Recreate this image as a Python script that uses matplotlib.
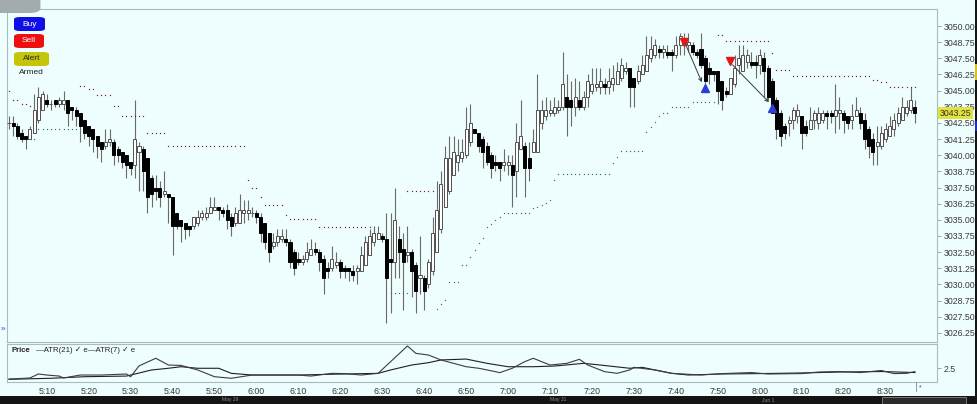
import matplotlib
matplotlib.use("Agg")
import matplotlib.pyplot as plt
import matplotlib.transforms as mtrans
from matplotlib.patches import Rectangle, FancyBboxPatch
import numpy as np

# ---------------- data ----------------
first_bar_minute = 1          # first bar is 5:01, one bar per minute
opens = [3042.50,3042.50,3042.25,3041.75,3041.50,3041.25,3041.75,3042.75,3043.50,3044.25,
         3044.00,3044.25,3044.00,3044.00,3044.25,3043.75,3043.50,3043.25,3042.75,3042.25,
         3042.00,3041.50,3041.00,3040.75,3041.00,3041.00,3040.50,3040.25,3040.00,3039.50,
         3039.25,3040.25,3040.50,3039.75,3038.25,3037.50,3037.50,3037.00,3037.00,3036.75,
         3035.50,3035.00,3034.75,3034.50,3034.50,3034.75,3035.25,3035.25,3035.50,3035.75,
         3036.00,3035.75,3035.75,3035.25,3034.75,3034.75,3035.50,3035.50,3035.50,3035.50,
         3035.25,3034.75,3034.00,3033.00,3033.25,3033.50,3033.50,3033.25,3032.50,3032.00,
         3031.75,3032.00,3032.25,3032.75,3032.50,3032.00,3031.25,3031.25,3031.50,3031.75,
         3031.25,3031.25,3031.00,3031.00,3031.00,3031.50,3032.25,3033.25,3033.50,3033.75,
         3033.50,3032.00,3031.75,3033.50,3032.75,3032.25,3032.50,3031.50,3030.50,3030.50,
         3030.00,3031.00,3032.50,3034.25,3036.00,3037.25,3038.50,3039.50,3039.75,3040.00,
         3041.00,3042.00,3041.75,3041.25,3040.75,3040.00,3039.50,3039.50,3039.25,3039.25,
         3039.25,3038.75,3040.50,3040.75,3039.75,3040.25,3040.25,3042.50,3043.00,3043.25,
         3043.25,3043.50,3043.75,3044.50,3044.25,3043.75,3044.25,3043.75,3044.50,3045.00,
         3045.25,3045.25,3045.50,3045.25,3045.50,3045.50,3046.00,3046.50,3046.75,3046.00,
         3045.75,3046.25,3046.50,3047.50,3047.75,3048.25,3048.00,3048.00,3048.00,3047.75,
         3048.50,3048.50,3048.50,3048.50,3048.00,3048.25,3047.50,3046.75,3046.50,3046.50,
         3045.75,3045.00,3044.75,3045.50,3047.00,3046.50,3047.25,3047.25,3047.25,3047.00,
         3047.50,3046.75,3045.75,3044.25,3043.25,3042.25,3042.50,3042.75,3043.00,3043.00,
         3042.25,3042.00,3042.75,3042.50,3042.75,3043.25,3043.25,3043.00,3043.25,3043.25,
         3043.00,3042.75,3043.00,3043.25,3042.75,3042.00,3041.25,3040.75,3040.75,3041.25,
         3041.50,3042.00,3042.50,3042.75,3043.25,3043.50,3043.75]
highs = [3043.00,3043.00,3042.50,3042.00,3041.50,3042.25,3044.75,3045.25,3045.00,3044.75,
         3044.25,3044.25,3044.50,3045.00,3044.25,3043.75,3043.75,3043.25,3042.75,3042.25,
         3042.00,3041.50,3041.00,3042.00,3042.00,3041.25,3040.75,3040.25,3040.00,3039.50,
         3044.25,3041.00,3040.75,3039.75,3038.50,3038.50,3038.00,3038.75,3037.00,3036.75,
         3035.50,3035.00,3034.75,3034.50,3035.25,3035.75,3035.75,3036.00,3036.75,3036.75,
         3036.00,3036.00,3036.25,3035.50,3036.00,3037.00,3036.50,3036.50,3036.00,3035.75,
         3035.50,3034.75,3034.00,3034.00,3034.25,3034.25,3034.25,3033.50,3032.75,3032.50,
         3032.25,3033.25,3033.50,3033.25,3032.75,3032.25,3031.75,3033.00,3032.50,3032.00,
         3031.50,3031.25,3031.50,3031.50,3033.00,3033.75,3034.25,3034.50,3034.50,3034.00,
         3035.50,3035.50,3037.50,3034.50,3034.00,3034.50,3032.75,3031.75,3033.75,3030.75,
         3032.00,3035.25,3038.00,3038.75,3040.75,3041.50,3041.50,3041.25,3041.25,3043.75,
         3044.00,3042.00,3041.75,3041.50,3041.00,3040.25,3040.00,3039.50,3040.50,3040.00,
         3040.00,3042.50,3044.25,3041.00,3041.00,3042.00,3046.25,3044.25,3044.50,3044.25,
         3044.50,3044.25,3048.00,3046.25,3045.75,3046.00,3045.75,3045.00,3046.25,3046.75,
         3046.75,3046.75,3046.00,3046.75,3047.00,3047.25,3047.50,3047.25,3046.75,3046.00,
         3047.00,3047.75,3049.25,3049.25,3049.00,3048.50,3048.50,3048.50,3048.25,3049.25,
         3049.50,3049.50,3049.50,3048.75,3048.25,3049.50,3047.75,3047.25,3046.50,3046.50,
         3045.75,3045.25,3046.00,3047.75,3048.50,3048.50,3048.25,3048.00,3047.75,3048.25,
         3048.00,3047.00,3046.00,3044.50,3043.50,3042.50,3043.00,3043.75,3044.00,3043.00,
         3042.75,3043.75,3043.50,3043.75,3043.50,3043.50,3043.50,3045.50,3044.50,3043.50,
         3043.00,3044.00,3044.50,3043.75,3043.25,3042.25,3041.75,3042.25,3042.25,3042.50,
         3043.00,3043.25,3043.75,3044.50,3044.25,3045.25,3044.25]
lows = [3042.00,3041.50,3041.25,3041.00,3040.50,3041.25,3041.75,3042.50,3043.50,3043.75,
        3043.50,3043.75,3043.75,3043.50,3042.25,3042.75,3042.25,3041.00,3041.25,3040.75,
        3040.25,3039.75,3039.50,3040.50,3040.75,3039.25,3039.50,3039.00,3038.25,3038.50,
        3038.25,3037.25,3037.25,3035.50,3036.00,3036.50,3036.00,3036.75,3034.75,3032.25,
        3034.25,3033.25,3033.50,3033.75,3034.25,3034.50,3035.00,3035.00,3035.50,3035.75,
        3035.00,3035.25,3034.25,3033.75,3034.50,3034.75,3034.75,3035.00,3035.25,3034.75,
        3033.25,3032.75,3031.75,3032.75,3033.00,3033.25,3033.00,3031.25,3030.75,3031.50,
        3031.50,3031.75,3032.25,3032.25,3031.00,3029.25,3030.50,3031.00,3031.25,3030.50,
        3030.50,3030.25,3030.25,3030.00,3031.00,3031.50,3032.25,3033.00,3033.50,3033.25,
        3027.00,3027.75,3030.50,3030.50,3028.00,3031.75,3029.00,3027.75,3029.25,3028.00,
        3029.75,3030.75,3032.50,3034.00,3036.00,3037.00,3038.50,3038.75,3039.50,3039.75,
        3040.75,3041.75,3040.25,3039.00,3039.25,3038.25,3038.75,3038.00,3038.75,3038.50,
        3036.00,3036.75,3040.50,3036.75,3038.00,3040.25,3040.25,3042.00,3042.75,3043.00,
        3043.00,3043.25,3043.50,3041.50,3042.25,3043.00,3043.50,3043.50,3043.75,3044.75,
        3045.00,3044.75,3044.75,3044.75,3045.00,3045.50,3045.75,3046.25,3043.75,3043.75,
        3045.50,3046.25,3046.50,3047.25,3047.50,3047.50,3047.50,3047.50,3046.50,3047.50,
        3047.75,3047.75,3048.00,3047.75,3047.50,3046.75,3045.50,3045.50,3045.75,3044.00,
        3043.50,3044.50,3044.75,3045.25,3046.25,3046.50,3046.75,3046.75,3046.00,3046.25,
        3044.50,3044.25,3043.25,3041.25,3040.75,3041.25,3041.50,3042.00,3042.50,3040.50,
        3041.50,3042.00,3042.00,3042.00,3042.50,3042.00,3042.50,3041.75,3042.00,3041.75,
        3042.00,3042.00,3043.00,3042.00,3040.50,3039.75,3039.25,3039.25,3040.50,3041.00,
        3041.50,3041.50,3042.25,3042.75,3043.00,3043.25,3042.50]
closes = [3042.50,3042.25,3041.50,3041.25,3041.25,3042.00,3043.50,3044.50,3044.75,3044.00,
          3044.00,3044.00,3044.25,3044.25,3043.25,3043.50,3043.00,3042.25,3041.75,3041.50,
          3041.25,3040.75,3040.50,3041.00,3041.25,3040.00,3040.00,3039.50,3039.25,3039.00,
          3041.25,3040.75,3038.75,3036.75,3037.00,3037.25,3036.75,3037.25,3036.75,3034.50,
          3034.50,3034.50,3034.25,3034.25,3035.25,3035.25,3035.50,3035.50,3036.00,3036.00,
          3035.75,3035.50,3035.00,3034.50,3035.50,3035.75,3035.75,3035.75,3035.50,3035.25,
          3034.00,3033.25,3032.50,3033.25,3033.75,3033.75,3033.25,3031.75,3031.25,3031.75,
          3032.00,3032.50,3032.75,3032.50,3031.75,3030.50,3031.00,3032.00,3031.75,3031.00,
          3031.00,3031.00,3030.75,3031.25,3032.25,3033.25,3033.75,3034.00,3034.00,3033.50,
          3030.50,3031.75,3035.00,3032.50,3031.75,3032.50,3031.00,3029.50,3030.75,3029.50,
          3031.75,3034.00,3035.75,3037.75,3039.75,3039.75,3040.25,3040.00,3040.25,3042.00,
          3042.50,3041.75,3040.75,3040.25,3039.50,3039.00,3039.25,3039.00,3039.50,3039.50,
          3038.50,3041.00,3041.50,3039.00,3039.00,3041.00,3043.50,3043.50,3043.50,3043.50,
          3043.75,3043.75,3045.50,3043.75,3043.75,3044.50,3043.75,3044.50,3045.75,3045.50,
          3045.50,3045.75,3045.25,3045.75,3046.00,3046.50,3047.00,3046.75,3045.25,3045.25,
          3046.50,3047.00,3047.75,3048.25,3048.50,3048.00,3048.25,3047.75,3047.75,3048.50,
          3049.25,3048.75,3048.75,3048.00,3047.75,3047.00,3045.75,3046.25,3046.25,3045.00,
          3044.25,3044.75,3046.00,3046.75,3047.50,3047.75,3047.75,3047.00,3047.00,3047.75,
          3046.50,3044.50,3043.25,3042.00,3041.50,3041.75,3042.75,3043.50,3043.50,3041.75,
          3041.75,3042.75,3043.25,3043.25,3043.25,3043.00,3043.00,3043.50,3043.50,3042.75,
          3042.50,3043.00,3043.50,3042.50,3041.25,3040.75,3040.25,3041.00,3041.75,3042.00,
          3042.25,3042.75,3043.25,3043.75,3043.75,3044.25,3043.25]

# trailing-stop dots: (first bar minute, last bar minute, level)
upper_stop_segments = [(1, 1, 3045.00), (2, 3, 3044.25), (4, 5, 3044.00), (6, 6, 3043.80),
                       (18, 19, 3045.35), (20, 21, 3045.10), (22, 25, 3044.65), (26, 27, 3043.80),
                       (28, 33, 3043.00), (34, 38, 3041.70), (39, 57, 3040.70), (58, 58, 3038.10),
                       (59, 60, 3037.45), (61, 61, 3036.75), (62, 66, 3036.15), (67, 67, 3035.40),
                       (68, 74, 3035.05), (75, 87, 3034.45), (96, 102, 3037.25), (170, 171, 3049.30),
                       (172, 182, 3048.85), (183, 183, 3047.90), (184, 187, 3046.60), (188, 206, 3046.15),
                       (207, 208, 3045.85), (209, 210, 3045.70), (211, 217, 3045.30)]
lower_stop_segments = [(7, 7, 3041.25), (8, 17, 3042.00), (92, 96, 3029.35), (103, 103, 3028.10),
                       (104, 104, 3028.45), (105, 105, 3028.80), (106, 108, 3030.20), (109, 110, 3031.50),
                       (111, 111, 3032.10), (112, 112, 3032.65), (113, 113, 3033.20), (114, 114, 3033.60),
                       (115, 115, 3034.45), (116, 116, 3034.65), (117, 117, 3035.00), (118, 118, 3035.20),
                       (119, 125, 3035.50), (126, 126, 3035.90), (127, 127, 3036.00), (128, 128, 3036.15),
                       (129, 129, 3036.30), (130, 130, 3036.50), (131, 131, 3038.10), (132, 144, 3038.55),
                       (145, 145, 3039.40), (146, 146, 3039.85), (147, 152, 3040.30), (153, 153, 3041.80),
                       (154, 154, 3042.20), (155, 155, 3042.60), (156, 156, 3043.00), (157, 158, 3043.30),
                       (159, 163, 3043.75), (164, 169, 3044.10)]

sell_minutes = [162, 173]
sell_prices = [3048.75, 3047.30]
buy_minutes = [167, 183]
buy_prices = [3045.20, 3043.65]

atr7_minutes = [1, 6, 8, 10, 13, 14, 18, 23, 29, 30, 32, 36, 39, 42, 46, 50, 54, 59, 63, 70,
                73, 78, 81, 85, 89, 92, 96, 98, 101, 104, 107, 110, 113, 117, 118, 121, 124, 126, 130, 134,
                137, 139, 143, 146, 149, 150, 155, 159, 166, 171, 178, 182, 190, 194, 199, 204, 209, 212, 215, 217]
atr7_values = [1.65, 1.73, 2.04, 1.96, 1.88, 1.73, 1.96, 1.96, 2.04, 1.83, 2.66, 3.25, 2.73, 2.70, 2.35, 1.83, 1.71, 1.96, 1.96, 1.96,
               1.88, 2.09, 2.07, 1.96, 2.09, 2.99, 4.20, 3.63, 3.50, 3.12, 2.86, 2.60, 2.48, 2.22, 2.14, 2.48, 2.99, 3.25, 2.73, 2.86,
               3.17, 2.73, 2.22, 2.09, 2.35, 2.55, 2.35, 2.09, 1.96, 2.07, 2.15, 2.04, 2.07, 2.19, 2.23, 2.15, 2.31, 2.07, 2.09, 2.22]
atr21_minutes = [1, 11, 19, 29, 35, 39, 42, 46, 51, 54, 59, 70, 78, 89, 92, 97, 101, 104, 110, 115,
                 120, 126, 131, 138, 142, 149, 152, 159, 163, 171, 180, 190, 199, 209, 217]
atr21_values = [1.63, 1.71, 1.83, 1.88, 2.35, 2.48, 2.60, 2.48, 2.48, 2.09, 1.96, 1.96, 2.02, 2.09, 2.35, 2.73, 2.91, 3.12, 3.19, 2.86,
                2.60, 2.60, 2.65, 2.86, 2.73, 2.48, 2.55, 2.09, 1.96, 2.04, 2.07, 2.12, 2.19, 2.23, 2.15]

x_tick_labels = ["5:10", "5:20", "5:30", "5:40", "5:50", "6:00", "6:10", "6:20", "6:30", "6:40", "6:50",
                 "7:00", "7:10", "7:20", "7:30", "7:40", "7:50", "8:00", "8:10", "8:20", "8:30"]
price_ticks = [3026.25, 3027.50, 3028.75, 3030.00, 3031.25, 3032.50, 3033.75, 3035.00, 3036.25, 3037.50,
               3038.75, 3040.00, 3041.25, 3042.50, 3043.75, 3045.00, 3046.25, 3047.50, 3048.75, 3050.00]
last_price = 3043.25
atr_ticks = [2.5]
date_labels = ["May 29", "May 31", "Jun 1"]

# ---------------- style ----------------
BG = "#eefdfd"
FONT = ["Liberation Sans", "DejaVu Sans"]
plt.rcParams["font.family"] = FONT
W, H = 978, 404

fig = plt.figure(figsize=(W / 100, H / 100), dpi=100)
fig.patch.set_facecolor(BG)

def box(px0, py0, px1, py1):
    return [px0 / W, 1 - py1 / H, (px1 - px0) / W, (py1 - py0) / H]

ax = fig.add_axes(box(7, 9, 937, 342))
ax2 = fig.add_axes(box(7, 344, 937, 382), sharex=ax)
for a in (ax, ax2):
    a.set_facecolor(BG)
    for s in a.spines.values():
        s.set_color("#a9bcbc")
        s.set_linewidth(0.8)

n = len(closes)
xs = np.arange(first_bar_minute, first_bar_minute + n)
o = np.array(opens); h = np.array(highs); l = np.array(lows); c = np.array(closes)
up = c >= o

# wicks
ax.vlines(xs, l, h, color="#6a6a6a", linewidth=0.8, zorder=2)
# bodies
bw = 0.72
ax.bar(xs[up], np.maximum(c[up] - o[up], 0.0), bottom=o[up], width=bw,
       color="white", edgecolor="#505050", linewidth=0.7, zorder=3)
ax.bar(xs[~up], o[~up] - c[~up], bottom=c[~up], width=bw,
       color="black", edgecolor="black", linewidth=0.7, zorder=3)

# stop dots
for s0, s1, v in upper_stop_segments:
    mx = np.arange(s0, s1 + 1)
    ax.plot(mx, np.full(mx.size, v), ls="none", marker="s", ms=0.85, mew=0,
            color="#7a1f1f", zorder=4)
for s0, s1, v in lower_stop_segments:
    mx = np.arange(s0, s1 + 1)
    ax.plot(mx, np.full(mx.size, v), ls="none", marker="s", ms=0.85, mew=0,
            color="#2a7f52", zorder=4)

# signals
ax.plot(sell_minutes, sell_prices, ls="none", marker="v", ms=6, color="#e01818", mec="#e01818", zorder=6)
ax.plot(buy_minutes, buy_prices, ls="none", marker="^", ms=6, color="#2b3fd6", mec="#2b3fd6", zorder=6)
for sm, sp, bm, bp in zip(sell_minutes, sell_prices, buy_minutes, buy_prices):
    ax.annotate("", xy=(bm - 0.8, bp + 0.45), xytext=(sm + 0.5, sp - 0.3),
                arrowprops=dict(arrowstyle="->", color="#3a3a3a", lw=0.7,
                                shrinkA=0, shrinkB=0, mutation_scale=6), zorder=5)

# axes limits
x_left, x_right = 0.525, 222.27
ax.set_xlim(x_left, x_right)
ax.set_ylim(3025.54, 3051.32)

ax.yaxis.tick_right()
ax.set_yticks(price_ticks)
ax.set_yticklabels([f"{v:.2f}" for v in price_ticks])
ax.tick_params(axis="y", which="both", length=3, width=0.6, color="#8a9a9a",
               pad=1.5, labelsize=6.3, labelcolor="#3a3a3a")
ax.tick_params(axis="x", which="both", bottom=False, labelbottom=False)

# current price label
tr = mtrans.blended_transform_factory(ax.transAxes, ax.transData)
ax.text(1.003, last_price, f"{last_price:.2f}", transform=tr, ha="left", va="center",
        fontsize=6.3, color="#333333", zorder=10, clip_on=False,
        bbox=dict(boxstyle="square,pad=0.18", fc="#e2e23c", ec="none"))

# ATR panel
ax2.plot(atr21_minutes, atr21_values, color="#1f1f1f", lw=0.8)
ax2.plot(atr7_minutes, atr7_values, color="#3c3c3c", lw=0.8)
ax2.set_ylim(1.423, 4.349)
ax2.yaxis.tick_right()
ax2.set_yticks(atr_ticks)
ax2.set_yticklabels([f"{v:g}" for v in atr_ticks])
ax2.tick_params(axis="y", length=3, width=0.6, color="#8a9a9a", pad=1.5,
                labelsize=6.3, labelcolor="#3a3a3a")
tick_minutes = [(int(t.split(":")[0]) - 5) * 60 + int(t.split(":")[1]) for t in x_tick_labels]
ax2.set_xticks(tick_minutes)
ax2.set_xticklabels(x_tick_labels)
ax2.tick_params(axis="x", length=0, pad=3.5, labelsize=6.3, labelcolor="#3a3a3a")

ax2.text(5 / 930, 0.83, "Price", transform=ax2.transAxes, fontsize=5.6,
         fontweight="bold", color="#222222", va="center", ha="left")
ax2.text(29 / 930, 0.83, "\u2014ATR(21) \u2713 e\u2014ATR(7) \u2713 e", transform=ax2.transAxes,
         fontsize=5.6, color="#222222", va="center", ha="left")

# current bar marker under the axis
fig.add_artist(plt.Line2D([916 / W, 916 / W], [1 - 391 / H, 1 - 382 / H], color="#7a8a8a", lw=0.6))
fig.text(919 / W, 1 - 388 / H, "*", fontsize=5, color="#555555", va="center", ha="left")

# ---------------- chrome ----------------
# buttons
for label, y0, fc, tc, wbtn in [("Buy", 17, "#1010e6", "white", 31),
                                ("Sell", 34, "#ee1010", "white", 30),
                                ("Alert", 52, "#c4c40a", "#2a2a2a", 35)]:
    fig.add_artist(FancyBboxPatch((14 / W, 1 - (y0 + 14) / H), wbtn / W, 14 / H,
                                  boxstyle="round,pad=0,rounding_size=0.006",
                                  transform=fig.transFigure, fc=fc, ec="none"))
    fig.text((14 + wbtn / 2) / W, 1 - (y0 + 7) / H, label, color=tc, fontsize=6,
             ha="center", va="center")
fig.text(31 / W, 1 - 73 / H, "Armed", color="#222222", fontsize=6, ha="center", va="center")

# top-left gray tab
fig.add_artist(FancyBboxPatch((-0.02, 1 - 13 / H), 60 / W, 30 / H,
                              boxstyle="round,pad=0,rounding_size=0.012",
                              transform=fig.transFigure, fc="#a3acac", ec="none"))

# left strip marker
fig.text(1 / W, 1 - 329 / H, "\u00bb", color="#2a4aa0", fontsize=6, ha="left", va="center")

# bottom dark strip with dates
fig.add_artist(Rectangle((0, 0), 1, 8 / H, transform=fig.transFigure, fc="#141414", ec="none"))
fig.add_artist(Rectangle((882 / W, 0.5 / H), 84 / W, 7 / H, transform=fig.transFigure,
                         fc="#2a2a2a", ec="#9a9a9a", lw=0.5))
for lab, px in zip(date_labels, [230, 558, 768]):
    fig.text(px / W, 4 / H, lab, color="#8a8a8a", fontsize=3.6, ha="center", va="center")

# right dark strip
fig.add_artist(Rectangle((975 / W, 0), 3 / W, 1, transform=fig.transFigure, fc="#141414", ec="none"))
fig.add_artist(Rectangle((975 / W, 1 - 80 / H), 3 / W, 16 / H, transform=fig.transFigure, fc="#d8c020", ec="none"))
fig.add_artist(Rectangle((975 / W, 1 - 131 / H), 3 / W, 10 / H, transform=fig.transFigure, fc="#2030c0", ec="none"))

fig.savefig("out.png", dpi=100, facecolor=fig.get_facecolor())
